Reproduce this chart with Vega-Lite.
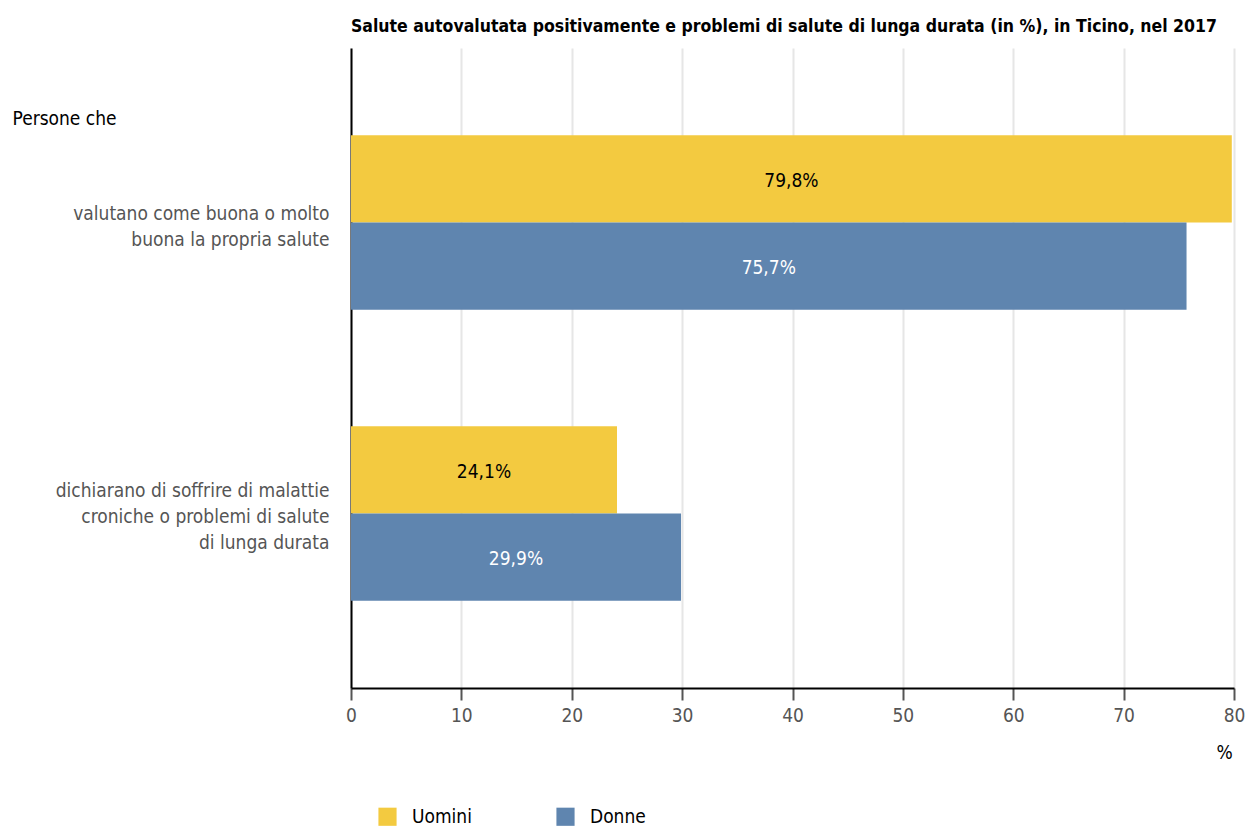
{
  "$schema": "https://vega.github.io/schema/vega-lite/v6.json",
  "width": 883,
  "height": 640,
  "autosize": "none",
  "padding": {"left": 351, "top": 48, "right": 15, "bottom": 140},
  "background": "white",
  "title": {
    "text": "Salute autovalutata positivamente e problemi di salute di lunga durata (in %), in Ticino, nel 2017",
    "anchor": "start",
    "frame": "group",
    "font": "DejaVu Sans Condensed, Roboto, sans-serif",
    "fontSize": 17.5,
    "fontWeight": "bold",
    "color": "#000000",
    "baseline": "bottom",
    "offset": 11,
    "dy": 16
  },
  "data": {
    "values": [
      {"cat": "valutano come buona o molto|buona la propria salute", "sesso": "Uomini", "value": 79.8, "label": "79,8%"},
      {"cat": "valutano come buona o molto|buona la propria salute", "sesso": "Donne", "value": 75.7, "label": "75,7%"},
      {"cat": "dichiarano di soffrire di malattie|croniche o problemi di salute|di lunga durata", "sesso": "Uomini", "value": 24.1, "label": "24,1%"},
      {"cat": "dichiarano di soffrire di malattie|croniche o problemi di salute|di lunga durata", "sesso": "Donne", "value": 29.9, "label": "29,9%"}
    ]
  },
  "encoding": {
    "y": {
      "field": "cat",
      "type": "nominal",
      "sort": null,
      "scale": {"paddingInner": 0.4, "paddingOuter": 0.3},
      "axis": {
        "title": "Persone che",
        "titleAngle": 0,
        "titleAlign": "left",
        "titleBaseline": "middle",
        "titleX": -339,
        "titleY": 70,
        "titleFont": "DejaVu Sans Condensed, Roboto, sans-serif",
        "titleFontSize": 19,
        "titleFontWeight": "normal",
        "titleColor": "#000000",
        "labelExpr": "split(datum.label, '|')",
        "labelFont": "DejaVu Sans Condensed, Roboto, sans-serif",
        "labelFontSize": 19,
        "labelColor": "#555555",
        "labelLineHeight": 26,
        "labelPadding": 22,
        "labelLimit": 400,
        "labelOffset": {"condition": {"test": "indexof(datum.value, 'dichiarano') >= 0", "value": -22}, "value": -9},
        "ticks": false,
        "domainColor": "#000000",
        "domainWidth": 2,
        "grid": false
      }
    },
    "yOffset": {"field": "sesso", "type": "nominal", "sort": ["Uomini", "Donne"], "scale": {"paddingInner": 0, "paddingOuter": 0}}
  },
  "layer": [
    {
      "mark": {"type": "bar"},
      "encoding": {
        "x": {
          "field": "value",
          "type": "quantitative",
          "scale": {"domain": [0, 80], "nice": false},
          "axis": {
            "values": [0, 10, 20, 30, 40, 50, 60, 70, 80],
            "title": "%",
            "titleAlign": "center",
            "titleX": 873,
            "titleY": 55,
            "titleFont": "DejaVu Sans Condensed, Roboto, sans-serif",
            "titleFontSize": 19,
            "titleFontWeight": "normal",
            "titleColor": "#000000",
            "labelFont": "DejaVu Sans Condensed, Roboto, sans-serif",
            "labelFontSize": 19,
            "labelColor": "#555555",
            "labelPadding": 6,
            "labelFlush": false,
            "tickColor": "#555555",
            "tickSize": 12,
            "tickWidth": 2,
            "domainColor": "#000000",
            "domainWidth": 2,
            "grid": true,
            "gridColor": "#e6e6e6",
            "gridWidth": 2
          }
        },
        "color": {
          "field": "sesso",
          "type": "nominal",
          "sort": ["Uomini", "Donne"],
          "scale": {"domain": ["Uomini", "Donne"], "range": ["#F3CA40", "#5F85AF"]},
          "legend": {
            "title": null,
            "orient": "none",
            "direction": "horizontal",
            "legendX": 27,
            "legendY": 759,
            "symbolType": "square",
            "symbolSize": 330,
            "symbolStrokeWidth": 0,
            "symbolOpacity": 1,
            "labelFont": "DejaVu Sans Condensed, Roboto, sans-serif",
            "labelFontSize": 19,
            "labelColor": "#000000",
            "labelOffset": 15,
            "columnPadding": 84
          }
        }
      }
    },
    {
      "transform": [{"calculate": "datum.value / 2", "as": "mid"}],
      "mark": {"type": "text", "font": "DejaVu Sans Condensed, Roboto, sans-serif", "fontSize": 19, "baseline": "middle", "align": "center", "dy": 2},
      "encoding": {
        "x": {"field": "mid", "type": "quantitative"},
        "text": {"field": "label"},
        "color": {
          "field": "sesso",
          "type": "nominal",
          "scale": {"domain": ["Uomini", "Donne"], "range": ["#000000", "#ffffff"]},
          "legend": null
        }
      }
    }
  ],
  "resolve": {"scale": {"color": "independent"}},
  "config": {"view": {"stroke": null}}
}
